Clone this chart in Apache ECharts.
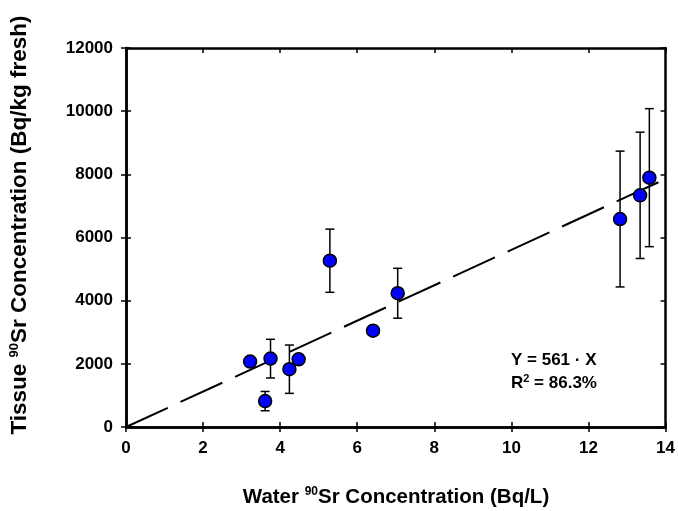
<!DOCTYPE html>
<html>
<head>
<meta charset="utf-8">
<script src="https://cdn.jsdelivr.net/npm/echarts@6/dist/echarts.min.js"></script>
<style>html,body{margin:0;padding:0;background:#fff}#c{width:678px;height:511px}</style>
</head>
<body>
<div id="c"></div>
<script>
var waterX = [3.22, 3.61, 3.75, 4.24, 4.48, 5.29, 6.41, 7.05, 12.82, 13.34, 13.58];
var tissueY = [2070, 820, 2165, 1830, 2145, 5265, 3050, 4235, 6585, 7335, 7895];
var tissueErr = [0, 305, 612, 765, 0, 1000, 0, 790, 2150, 2000, 2185];
var slope = 561;
var fitX = [0, 14];
var xTicks = [0, 2, 4, 6, 8, 10, 12, 14];
var yTicks = [0, 2000, 4000, 6000, 8000, 10000, 12000];

var pts = waterX.map(function (x, i) { return [x, tissueY[i]]; });
var errs = waterX.map(function (x, i) { return [x, tissueY[i] - tissueErr[i], tissueY[i] + tissueErr[i]]; }).filter(function (d, i) { return tissueErr[i] > 0; });
var fit = fitX.map(function (x) { return [x, slope * x]; });

var font = 'Liberation Sans, Arial, sans-serif';
var chart = echarts.init(document.getElementById('c'), null, { renderer: 'canvas' });

function baseX(extra) {
  return Object.assign({
    type: 'value', min: xTicks[0], max: xTicks[xTicks.length - 1], interval: xTicks[1] - xTicks[0],
    splitLine: { show: false },
    axisLine: { show: true, onZero: false, lineStyle: { color: '#000', width: 2.5 } },
    axisTick: { show: true, length: 5, lineStyle: { color: '#000', width: 1.5 } },
    axisLabel: { show: false }
  }, extra);
}
function baseY(extra) {
  return Object.assign({
    type: 'value', min: yTicks[0], max: yTicks[yTicks.length - 1], interval: yTicks[1] - yTicks[0],
    splitLine: { show: false },
    axisLine: { show: true, onZero: false, lineStyle: { color: '#000', width: 2.5 } },
    axisTick: { show: true, length: 5, lineStyle: { color: '#000', width: 1.5 } },
    axisLabel: { show: false }
  }, extra);
}
var inTick = { show: true, inside: true, length: 5, lineStyle: { color: '#000', width: 1.5 } };

chart.setOption({
  animation: false,
  grid: { left: 126, right: 10, top: 48, bottom: 84, containLabel: false },
  xAxis: [
    baseX({ position: 'bottom', axisLabel: { show: true, margin: 13, color: '#000', fontSize: 17, fontWeight: 'bold', fontFamily: font, formatter: function (v) { return String(v); } } }),
    baseX({ position: 'bottom', axisTick: inTick }),
    baseX({ position: 'top', axisTick: inTick })
  ],
  yAxis: [
    baseY({ position: 'left', axisLabel: { show: true, margin: 13, color: '#000', fontSize: 17, fontWeight: 'bold', fontFamily: font, formatter: function (v) { return String(v); } } }),
    baseY({ position: 'left', axisTick: inTick }),
    baseY({ position: 'right', axisTick: inTick })
  ],
  series: [
    {
      type: 'line', data: fit, symbol: 'none', silent: true, z: 2,
      lineStyle: { color: '#000', width: 2, type: [46, 14] }
    },
    {
      type: 'custom', data: errs, z: 3,
      renderItem: function (params, api) {
        var x = api.value(0);
        var lo = api.coord([x, api.value(1)]);
        var hi = api.coord([x, api.value(2)]);
        var hw = 4.5;
        var st = { stroke: '#000', lineWidth: 1.5 };
        return {
          type: 'group',
          children: [
            { type: 'line', shape: { x1: lo[0], y1: lo[1], x2: hi[0], y2: hi[1] }, style: st },
            { type: 'line', shape: { x1: lo[0] - hw, y1: lo[1], x2: lo[0] + hw, y2: lo[1] }, style: st },
            { type: 'line', shape: { x1: hi[0] - hw, y1: hi[1], x2: hi[0] + hw, y2: hi[1] }, style: st }
          ]
        };
      }
    },
    {
      type: 'scatter', data: pts, symbol: 'circle', symbolSize: 13, z: 4,
      itemStyle: { color: '#0000ff', borderColor: '#000', borderWidth: 1.5, opacity: 1 }
    }
  ],
  graphic: [
    {
      type: 'text', left: 511, top: 352,
      style: { text: 'Y = 561 · X', font: 'bold 17px ' + font, fill: '#000' }
    },
    {
      type: 'text', left: 511, top: 373,
      style: {
        text: 'R{sup|2} = 86.3%', font: 'bold 17px ' + font, fill: '#000',
        rich: { sup: { fontSize: 11, fontWeight: 'bold', fontFamily: font, padding: [0, 0, 9, 0] } }
      }
    },
    {
      type: 'text', x: 396, y: 497,
      style: {
        text: 'Water {sup|90}Sr Concentration (Bq/L)', font: 'bold 20.5px ' + font, fill: '#000',
        align: 'center', verticalAlign: 'middle',
        rich: { sup: { fontSize: 12, fontWeight: 'bold', fontFamily: font, padding: [0, 0, 11, 0] } }
      }
    },
    {
      type: 'text', x: 20, y: 225, rotation: Math.PI / 2,
      style: {
        text: 'Tissue {sup|90}Sr Concentration (Bq/kg fresh)', font: 'bold 22.5px ' + font, fill: '#000',
        align: 'center', verticalAlign: 'middle',
        rich: { sup: { fontSize: 13, fontWeight: 'bold', fontFamily: font, padding: [0, 0, 12, 0] } }
      }
    }
  ]
});
</script>
</body>
</html>
